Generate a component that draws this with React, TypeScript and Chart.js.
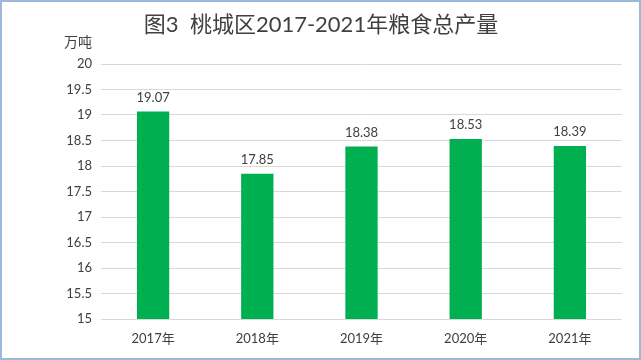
import React, { useEffect, useRef } from "react";
import { Chart, registerables } from "chart.js";

Chart.register(...registerables);

const categories = ["2017年", "2018年", "2019年", "2020年", "2021年"];
const values = [19.07, 17.85, 18.38, 18.53, 18.39];
const titleText = "图3  桃城区2017-2021年粮食总产量";
const unitText = "万吨";
const yMin = 15;
const yMax = 20;
const yStep = 0.5;

const FONT = "Lato, 'Noto Sans CJK SC', sans-serif";

export default function App() {
  const ref = useRef<HTMLCanvasElement | null>(null);

  useEffect(() => {
    if (!ref.current) return;
    const overlay = {
      id: "overlay",
      afterDatasetsDraw(chart: any) {
        const ctx = chart.ctx;
        const meta = chart.getDatasetMeta(0);
        ctx.save();
        ctx.fillStyle = "#404040";
        ctx.font = `13px ${FONT}`;
        ctx.textAlign = "center";
        ctx.textBaseline = "middle";
        meta.data.forEach((bar: any, i: number) => {
          ctx.fillText(values[i].toFixed(2), bar.x, bar.y - 14);
        });
        ctx.restore();
      },
      afterDraw(chart: any) {
        const ctx = chart.ctx;
        ctx.save();
        ctx.fillStyle = "#404040";
        ctx.textBaseline = "middle";
        ctx.textAlign = "center";
        ctx.font = `22px ${FONT}`;
        ctx.fillText(titleText, 319, 23);
        ctx.font = `14px ${FONT}`;
        ctx.textAlign = "right";
        ctx.fillText(unitText, 90, 40);
        ctx.restore();
      },
    };
    const chart = new Chart(ref.current, {
      type: "bar",
      data: {
        labels: categories,
        datasets: [
          {
            data: values,
            backgroundColor: "#00B050",
            borderWidth: 0,
            categoryPercentage: 1,
            barPercentage: 0.31,
          },
        ],
      },
      options: {
        responsive: false,
        animation: false,
        layout: { padding: { left: 0, right: 17, top: 62, bottom: 0 } },
        plugins: {
          legend: { display: false },
          title: { display: false },
          tooltip: { enabled: false },
        },
        scales: {
          x: {
            grid: { display: false, drawTicks: false },
            border: { display: false },
            ticks: { color: "#404040", font: { family: FONT, size: 13 }, padding: 12 },
            afterFit(scale: any) {
              scale.height = 39;
            },
          },
          y: {
            min: yMin,
            max: yMax,
            grid: { color: "#D9D9D9", lineWidth: 1, drawTicks: false },
            border: { display: false },
            ticks: {
              stepSize: yStep,
              color: "#404040",
              font: { family: FONT, size: 13 },
              padding: 9,
              callback: (v: any) => String(Number(v)),
            },
            afterFit(scale: any) {
              scale.width = 99;
            },
          },
        },
      },
      plugins: [overlay],
    });
    return () => chart.destroy();
  }, []);

  return (
    <div
      style={{
        position: "fixed",
        left: 0,
        top: 0,
        width: 641,
        height: 360,
        boxSizing: "border-box",
        border: "2px solid #9DB9DA",
        background: "#fff",
      }}
    >
      <canvas ref={ref} width={637} height={356} style={{ display: "block" }} />
    </div>
  );
}
